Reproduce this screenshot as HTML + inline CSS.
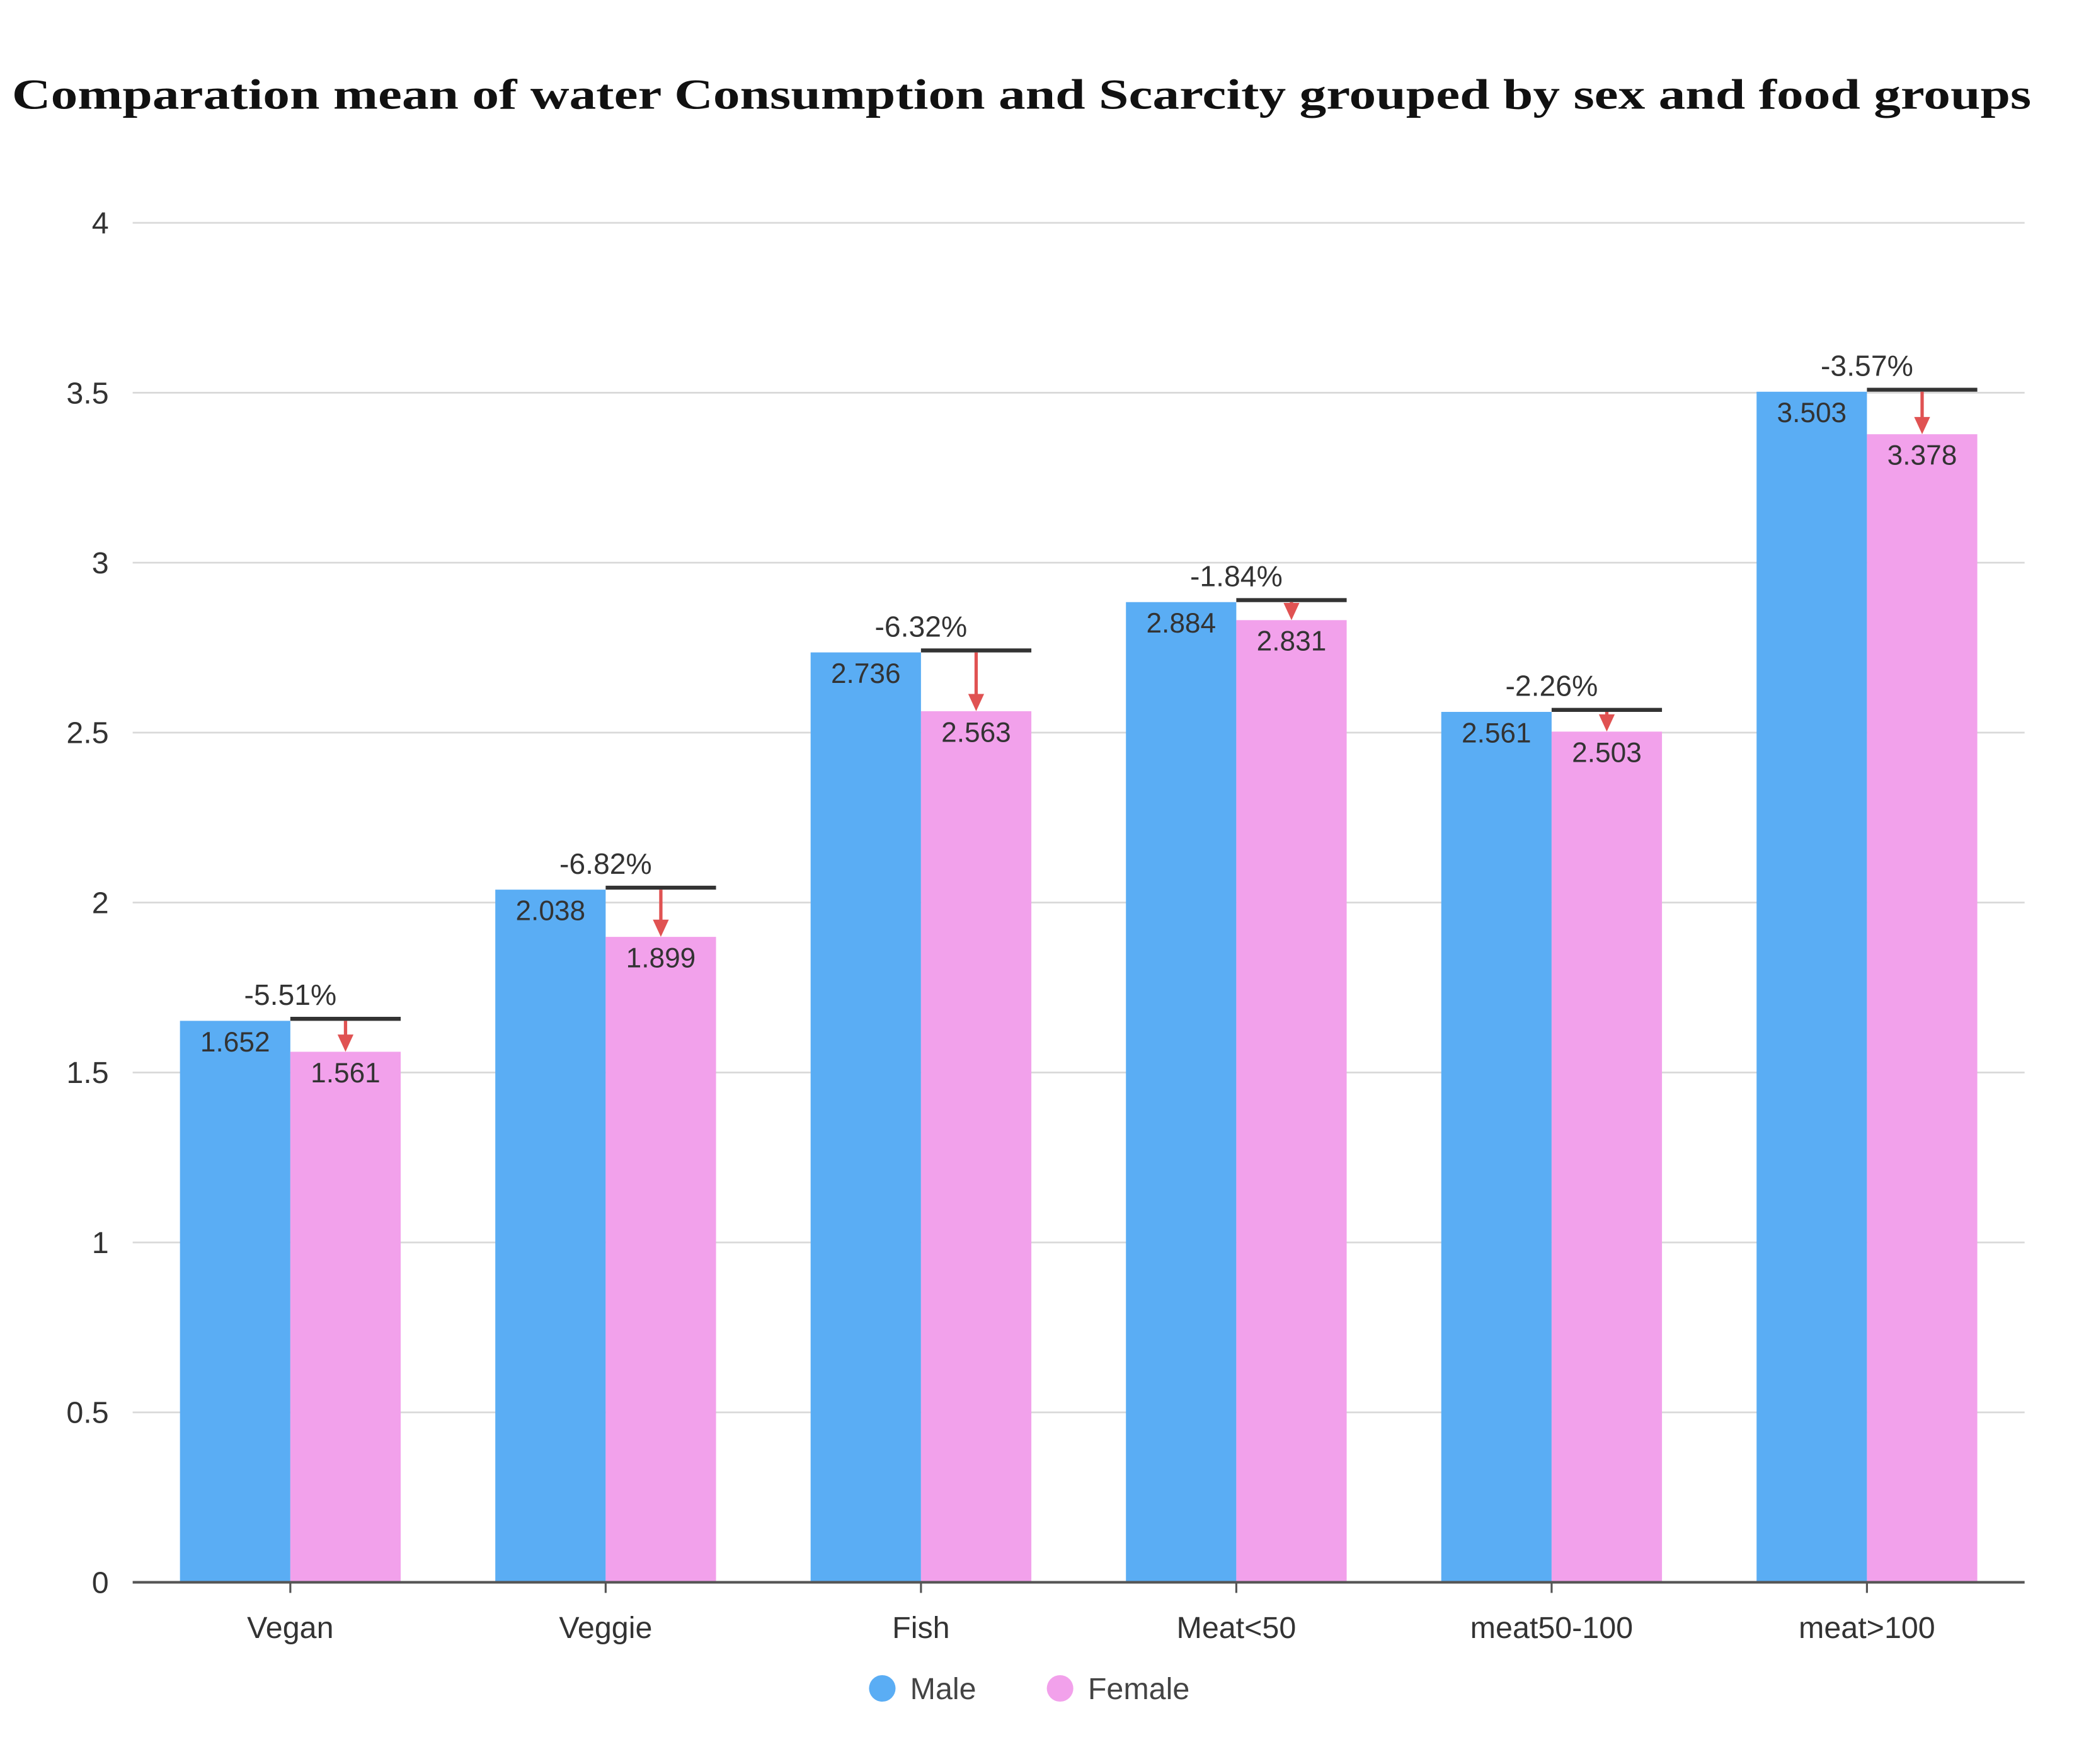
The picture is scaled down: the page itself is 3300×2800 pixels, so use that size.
<!DOCTYPE html>
<html><head><meta charset="utf-8"><style>
html,body{margin:0;padding:0;background:#fff;}
svg{display:block;}
text{font-family:"Liberation Sans","DejaVu Sans",sans-serif;}
</style></head><body>
<svg id="chart" xmlns="http://www.w3.org/2000/svg" width="3300" height="2800" viewBox="0 0 1567 1330" preserveAspectRatio="none">
<rect x="0" y="0" width="1567" height="1330" fill="#fff"/>
<text x="770" y="82" text-anchor="middle" font-size="32" font-weight="bold" fill="#111" textLength="1522" lengthAdjust="spacingAndGlyphs" style="font-family:'Liberation Serif',serif">Comparation mean of water Consumption and Scarcity grouped by sex and food groups</text>
<g id="grid"></g>
<g id="yticks"></g>
<g id="bars"></g>
<g id="xaxis"></g>
<g>
<circle cx="665" cy="1273" r="10" fill="#5aadf4"/>
<text x="686" y="1281" font-size="23" fill="#444">Male</text>
<circle cx="799" cy="1273" r="10" fill="#f2a1eb"/>
<text x="820" y="1281" font-size="23" fill="#444">Female</text>
</g>
</svg>
<script>
const categories = ["Vegan","Veggie","Fish","Meat<50","meat50-100","meat>100"];
const maleValues = [1.652,2.038,2.736,2.884,2.561,3.503];
const femaleValues = [1.561,1.899,2.563,2.831,2.503,3.378];
const pctLabels = ["-5.51%","-6.82%","-6.32%","-1.84%","-2.26%","-3.57%"];
const yTicks = [0,0.5,1,1.5,2,2.5,3,3.5,4];
const yTickLabels = ["0","0.5","1","1.5","2","2.5","3","3.5","4"];

const NS = "http://www.w3.org/2000/svg";
const L = 100, R = 1526, Y0 = 1193, YTOP = 168, YMAX = 4;
const band = (R - L) / categories.length;
const barW = band * 0.35;
function y(v){ return Y0 - (v / YMAX) * (Y0 - YTOP); }
function xc(i){ return L + band * (i + 0.5); }
function mk(tag, attrs, parent, txt){
  const e = document.createElementNS(NS, tag);
  for (const k in attrs) e.setAttribute(k, attrs[k]);
  if (txt !== undefined) e.textContent = txt;
  parent.appendChild(e);
  return e;
}
const grid = document.getElementById('grid');
const yt = document.getElementById('yticks');
yTicks.forEach((t, i) => {
  if (t > 0) {
    const gl = mk('line', {x1:L, x2:R, y1:y(t), y2:y(t), stroke:'#d9d9d9', 'stroke-width':1.3}, grid);
    
    
  }
  const tl = mk('text', {x:82, y:y(t)+8, 'text-anchor':'end', 'font-size':23, fill:'#333'}, yt, yTickLabels[i]);
  
  
});
const bars = document.getElementById('bars');
const xa = document.getElementById('xaxis');
categories.forEach((c, i) => {
  const cx = xc(i);
  const m = mk('rect', {x:cx-barW, y:y(maleValues[i]), width:barW, height:Y0-y(maleValues[i]), fill:'#5aadf4'}, bars);
  
  
  const f = mk('rect', {x:cx, y:y(femaleValues[i]), width:barW, height:Y0-y(femaleValues[i]), fill:'#f2a1eb'}, bars);
  
  
  const ml = mk('text', {x:cx-barW/2, y:y(maleValues[i])+23, 'text-anchor':'middle', 'font-size':21, fill:'#333'}, bars, maleValues[i].toFixed(3));
  
  
  const fl = mk('text', {x:cx+barW/2, y:y(femaleValues[i])+23, 'text-anchor':'middle', 'font-size':21, fill:'#333'}, bars, femaleValues[i].toFixed(3));
  
  
  const ref = mk('line', {x1:cx, x2:cx+barW, y1:y(maleValues[i])-1.5, y2:y(maleValues[i])-1.5, stroke:'#333', 'stroke-width':3}, bars);
  
  
  const ay1 = y(maleValues[i]), ay2 = y(femaleValues[i]);
  const ax = cx + barW/2;
  const shaft = mk('line', {x1:ax, x2:ax, y1:ay1, y2:Math.max(ay1, ay2-12), stroke:'#e05252', 'stroke-width':2.5}, bars);
  
  
  const head = mk('polygon', {points:`${ax-6},${ay2-13} ${ax+6},${ay2-13} ${ax},${ay2}`, fill:'#e05252'}, bars);
  
  
  const pl = mk('text', {x:cx, y:y(maleValues[i])-12, 'text-anchor':'middle', 'font-size':22, fill:'#333'}, bars, pctLabels[i]);
  
  
  const tk = mk('line', {x1:cx, x2:cx, y1:Y0, y2:Y0+8, stroke:'#555', 'stroke-width':1.5}, xa);
  
  
  const xl = mk('text', {x:cx, y:1235, 'text-anchor':'middle', 'font-size':23, fill:'#333'}, xa, c);
  
  
});
const axisLine = mk('line', {x1:L, x2:R, y1:Y0, y2:Y0, stroke:'#555', 'stroke-width':2}, xa);


</script>
</body></html>
